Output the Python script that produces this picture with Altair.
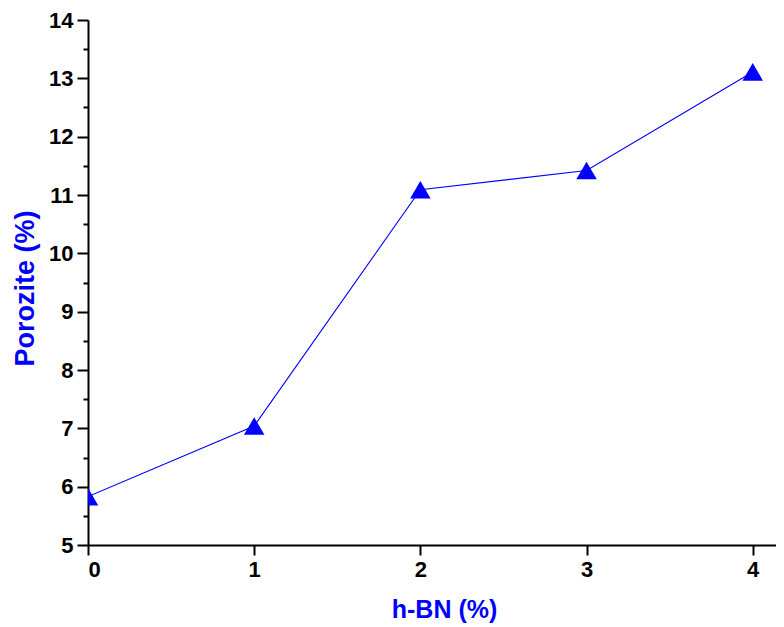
import altair as alt
import pandas as pd

hbn = [0, 1, 2, 3, 4]
porozite = [5.83, 7.04, 11.09, 11.42, 13.11]
y_major = [5, 6, 7, 8, 9, 10, 11, 12, 13, 14]
y_minor = [5.5, 6.5, 7.5, 8.5, 9.5, 10.5, 11.5, 12.5, 13.5]
x_ticks = [0, 1, 2, 3, 4]

df = pd.DataFrame({"hbn": hbn, "por": porozite})

BLUE = "#0000FF"
FONT = "Liberation Sans"

xscale = alt.Scale(domain=[0, 4.14], nice=False, zero=False)
yscale = alt.Scale(domain=[5, 14], nice=False, zero=False)

xaxis = alt.Axis(
    values=x_ticks, format="d", grid=False, domainColor="black", domainWidth=2,
    tickColor="black", tickWidth=2, tickSize=10, labelFont=FONT, labelFontSize=22,
    labelFontWeight="bold", labelColor="black", labelPadding=4,
    title="h-BN (%)", titleFont=FONT, titleFontSize=25, titleFontWeight="bold",
    titleColor=BLUE, titleX=356, titleY=72, titleBaseline="alphabetic",
)
yaxis = alt.Axis(
    values=y_major, format="d", grid=False, domainColor="black", domainWidth=2,
    tickColor="black", tickWidth=2, tickSize=11, labelFont=FONT, labelFontSize=22,
    labelFontWeight="bold", labelColor="black", labelPadding=4,
    title="Porozite (%)", titleFont=FONT, titleFontSize=27, titleFontWeight="bold",
    titleColor=BLUE, titleX=-55, titleY=268, titleAngle=-90, titleBaseline="alphabetic",
    orient="left",
)
yaxis_minor = alt.Axis(
    values=y_minor, labels=False, domain=False, grid=False, tickColor="black",
    tickWidth=2, tickSize=5, title=None, orient="left",
)

line = alt.Chart(df).mark_line(color=BLUE, strokeWidth=1.1, clip=True).encode(
    x=alt.X("hbn:Q", scale=xscale, axis=xaxis),
    y=alt.Y("por:Q", scale=yscale, axis=yaxis),
)
pts = alt.Chart(df).mark_point(
    shape="triangle-up", filled=True, color=BLUE, size=420, opacity=1, clip=True
).encode(
    x=alt.X("hbn:Q", scale=xscale),
    y=alt.Y("por:Q", scale=yscale, axis=yaxis_minor),
)

chart = (
    alt.layer(line, pts)
    .resolve_axis(y="independent")
    .properties(
        width=688, height=525,
        autosize=alt.AutoSizeParams(type="none"),
        padding={"left": 80, "top": 12, "right": 0, "bottom": 80},
    )
    .configure_view(stroke=None)
)

chart.save("out.html", embed_options={"renderer": "svg", "actions": False})
